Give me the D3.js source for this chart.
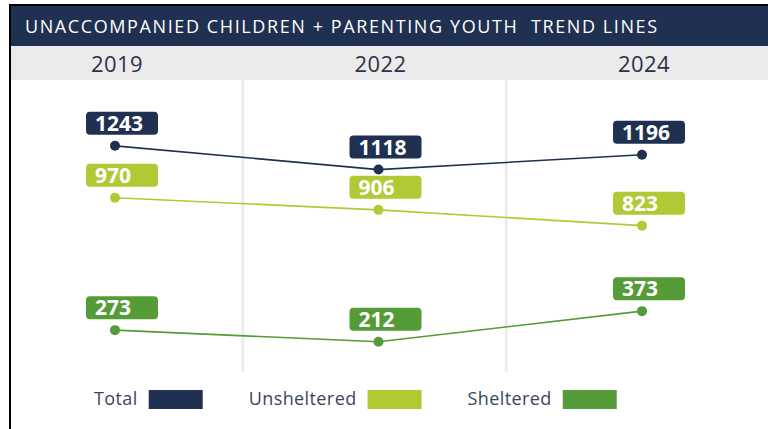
<!DOCTYPE html>
<html>
<head>
<meta charset="utf-8">
<script src="https://cdn.jsdelivr.net/npm/d3@7"></script>
<style>
  body { margin: 0; background: #fff; }
  svg { display: block; }
</style>
</head>
<body>
<script>
const w = 768
const h = 429

const titleText = 'UNACCOMPANIED CHILDREN + PARENTING YOUTH  TREND LINES'
const years = ['2019', '2022', '2024']
const seriesNames = ['Total', 'Unsheltered', 'Sheltered']
const seriesColors = ['#1f3050', '#b2c936', '#559b37']
const totalValues = [1243, 1118, 1196]
const unshelteredValues = [970, 906, 823]
const shelteredValues = [273, 212, 373]

const seriesValues = [totalValues, unshelteredValues, shelteredValues]

const xScale = d3.scalePoint()
    .domain(years)
    .range([115, 642])

const yScale = d3.scaleLinear()
    .domain([0, 1300])
    .range([382, 135])

const svg = d3.select('body').append('svg')
    .attr('width', w)
    .attr('height', h)

// frame + header
svg.append('rect').attr('x', 11).attr('y', 6).attr('width', w - 11).attr('height', 40).attr('fill', '#1f3050')
svg.append('rect').attr('x', 11).attr('y', 46).attr('width', w - 11).attr('height', 34).attr('fill', '#ebebeb')
svg.append('line').attr('x1', 10).attr('x2', w).attr('y1', 5).attr('y2', 5).attr('stroke', '#000').attr('stroke-width', 2)
svg.append('line').attr('x1', 10).attr('x2', 10).attr('y1', 4).attr('y2', h).attr('stroke', '#000').attr('stroke-width', 2)

svg.append('text')
    .attr('x', 25).attr('y', 33)
    .attr('fill', '#fff')
    .attr('font-family', 'Open Sans, sans-serif')
    .attr('font-size', 18)
    .attr('letter-spacing', 1.6)
    .style('white-space', 'pre')
    .text(titleText)

svg.selectAll('.year')
    .data(years)
    .enter().append('text')
    .attr('class', 'year')
    .attr('x', d => xScale(d) + 2)
    .attr('y', 72)
    .attr('text-anchor', 'middle')
    .attr('fill', '#2b3446')
    .attr('font-family', 'Open Sans, sans-serif')
    .attr('font-size', 22)
    .attr('letter-spacing', 0.4)
    .text(d => d)

// column separators halfway between years
const seps = [0, 1].map(i => (xScale(years[i]) + xScale(years[i + 1])) / 2 - 4)
svg.selectAll('.sep')
    .data(seps)
    .enter().append('line')
    .attr('x1', d => d).attr('x2', d => d)
    .attr('y1', 80).attr('y2', 372)
    .attr('stroke', '#ececec')
    .attr('stroke-width', 3)

const lineFun = d3.line()
    .x((d, i) => xScale(years[i]))
    .y(d => yScale(d))

seriesValues.forEach(function (vals, s) {
    const col = seriesColors[s]
    const g = svg.append('g')

    g.append('path')
        .attr('d', lineFun(vals))
        .attr('fill', 'none')
        .attr('stroke', col)
        .attr('stroke-width', 1.6)

    g.selectAll('circle')
        .data(vals)
        .enter().append('circle')
        .attr('cx', (d, i) => xScale(years[i]))
        .attr('cy', d => yScale(d))
        .attr('r', 5)
        .attr('fill', col)

    g.selectAll('rect')
        .data(vals)
        .enter().append('rect')
        .attr('x', (d, i) => xScale(years[i]) - 29)
        .attr('y', d => yScale(d) - 34)
        .attr('width', 72)
        .attr('height', 23)
        .attr('rx', 4)
        .attr('fill', col)

    g.selectAll('text')
        .data(vals)
        .enter().append('text')
        .attr('x', (d, i) => xScale(years[i]) - 20)
        .attr('y', d => yScale(d) - 15)
        .attr('fill', '#fff')
        .attr('font-family', 'Open Sans, sans-serif')
        .attr('font-weight', 700)
        .attr('font-size', 21)
        .text(d => d)
})

// legend
let lx = 94
seriesNames.forEach(function (name, i) {
    const t = svg.append('text')
        .attr('x', lx).attr('y', 405)
        .attr('fill', '#3a4560')
        .attr('font-family', 'Open Sans, sans-serif')
        .attr('font-size', 18)
        .attr('letter-spacing', 0.4)
        .text(name)
    const tw = t.node().getComputedTextLength()
    svg.append('rect')
        .attr('x', lx + tw + 11).attr('y', 390)
        .attr('width', 54).attr('height', 19)
        .attr('fill', seriesColors[i])
    lx = lx + tw + 11 + 54 + 46
})
</script>
</body>
</html>
